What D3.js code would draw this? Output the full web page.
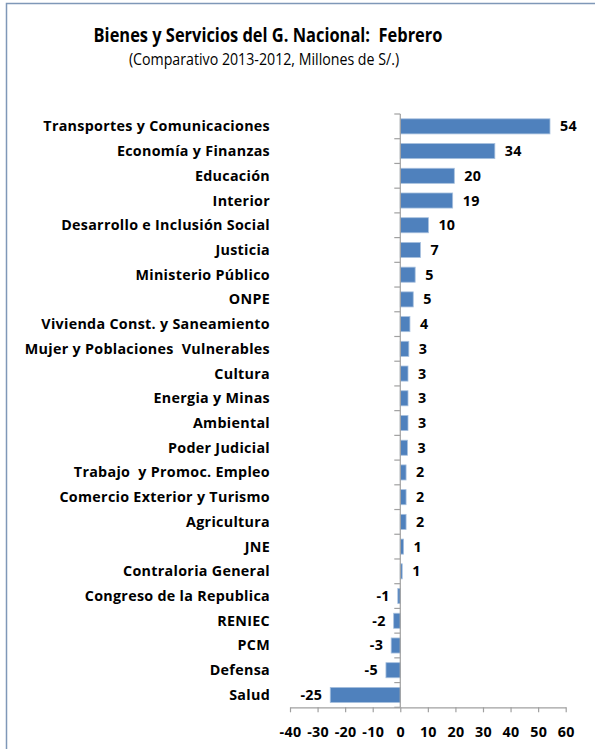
<!DOCTYPE html>
<html>
<head>
<meta charset="utf-8">
<script src="https://cdn.jsdelivr.net/npm/d3@7"></script>
<style>
  body { margin: 0; background: #fff; }
  svg text { font-family: "Open Sans", sans-serif; fill: #000; white-space: pre; }
</style>
</head>
<body>
<svg id="chart" width="595" height="749"></svg>
<script>
// data (top to bottom)
var categories = ['Transportes y Comunicaciones', 'Economía y Finanzas', 'Educación', 'Interior',
  'Desarrollo e Inclusión Social', 'Justicia', 'Ministerio Público', 'ONPE',
  'Vivienda Const. y Saneamiento', 'Mujer y Poblaciones  Vulnerables', 'Cultura', 'Energia y Minas',
  'Ambiental', 'Poder Judicial', 'Trabajo  y Promoc. Empleo', 'Comercio Exterior y Turismo',
  'Agricultura', 'JNE', 'Contraloria General', 'Congreso de la Republica', 'RENIEC', 'PCM',
  'Defensa', 'Salud'];
var values = [54.3, 34.3, 19.6, 19.0, 10.2, 7.3, 5.4, 4.7, 3.5, 3.1, 2.8, 2.8, 2.8, 2.6, 2.1, 2.1,
  2.1, 1.2, 0.7, -0.9, -2.4, -3.3, -5.2, -25.4];
var xTicks = [-40, -30, -20, -10, 0, 10, 20, 30, 40, 50, 60];

var svg = d3.select('#chart');
var fmt = function(d) { return String(Math.round(d)) };           // plain hyphen, like Excel

// shared style for the bold labels
function boldLabel(sel) {
  sel.style('font-size', '14.3px').style('font-weight', 'bold').style('letter-spacing', '0.3px');
}

// outer frame of the chart object
svg.append('rect').attr('x', 6.5).attr('y', 3.5).attr('width', 620).attr('height', 760)
  .style('fill', 'none').style('stroke', '#7f98b8').style('stroke-width', 1.5);

// titles (a bit condensed, the source font is narrower than Open Sans)
svg.append('text').attr('transform', 'translate(268,42) scale(0.865,1)').attr('text-anchor', 'middle')
  .style('font-size', '19px').style('font-weight', 'bold')
  .text('Bienes y Servicios del G. Nacional:  Febrero');
svg.append('text').attr('transform', 'translate(264,65) scale(0.91,1)').attr('text-anchor', 'middle')
  .style('font-size', '15.6px')
  .text('(Comparativo 2013-2012, Millones de S/.)');

// scales
var x = d3.scaleLinear().domain([-40, 60]).range([290, 565.7]);
var y = d3.scaleBand().domain(categories).range([114, 707.3]).paddingInner(0.39).paddingOuter(0.195);

// bars
svg.append('g').selectAll('rect').data(values).join('rect')
  .attr('x', function(d) { return Math.min(x(0), x(d)) })
  .attr('y', function(d, i) { return y(categories[i]) })
  .attr('width', function(d) { return Math.abs(x(d) - x(0)) })
  .attr('height', y.bandwidth())
  .style('fill', '#4f81bd').style('stroke', '#a7c0de').style('stroke-width', 0.8);

// value labels
svg.append('g').selectAll('text').data(values).join('text')
  .attr('x', function(d) { return d >= 0 ? x(d) + 10 : x(d) - 8 })
  .attr('y', function(d, i) { return y(categories[i]) + y.bandwidth() / 2 + 5 })
  .attr('text-anchor', function(d) { return d >= 0 ? 'start' : 'end' })
  .call(boldLabel)
  .text(fmt);

// category labels
svg.append('g').selectAll('text').data(categories).join('text')
  .attr('x', 270)
  .attr('y', function(d) { return y(d) + y.bandwidth() / 2 + 5 })
  .attr('text-anchor', 'end')
  .call(boldLabel)
  .text(function(d) { return d });

// vertical category axis at zero, ticks between bands
var yAxis = svg.append('g');
yAxis.append('line').attr('x1', x(0)).attr('x2', x(0)).attr('y1', 114).attr('y2', 707.3)
  .style('stroke', '#a0a0a0').style('stroke-width', 1.2);
var bounds = categories.map(function(d) { return y(d) - y.step() * y.paddingInner() / 2 });
bounds.push(707.3);
yAxis.selectAll('line.t').data(bounds).join('line').attr('class', 't')
  .attr('x1', x(0) - 6).attr('x2', x(0)).attr('y1', function(d) { return d }).attr('y2', function(d) { return d })
  .style('stroke', '#a0a0a0').style('stroke-width', 1.2);

// horizontal value axis
var xAxis = svg.append('g').attr('transform', 'translate(0,707.3)')
  .call(d3.axisBottom(x).tickValues(xTicks).tickFormat(fmt).tickSize(5).tickPadding(15).tickSizeOuter(0));
xAxis.select('.domain').style('stroke', '#a0a0a0').style('stroke-width', 1.2);
xAxis.selectAll('.tick line').style('stroke', '#a0a0a0').style('stroke-width', 1.2);
xAxis.selectAll('.tick text').call(boldLabel)
  .style('font-family', '"Open Sans", sans-serif').attr('fill', '#000');
</script>
</body>
</html>
